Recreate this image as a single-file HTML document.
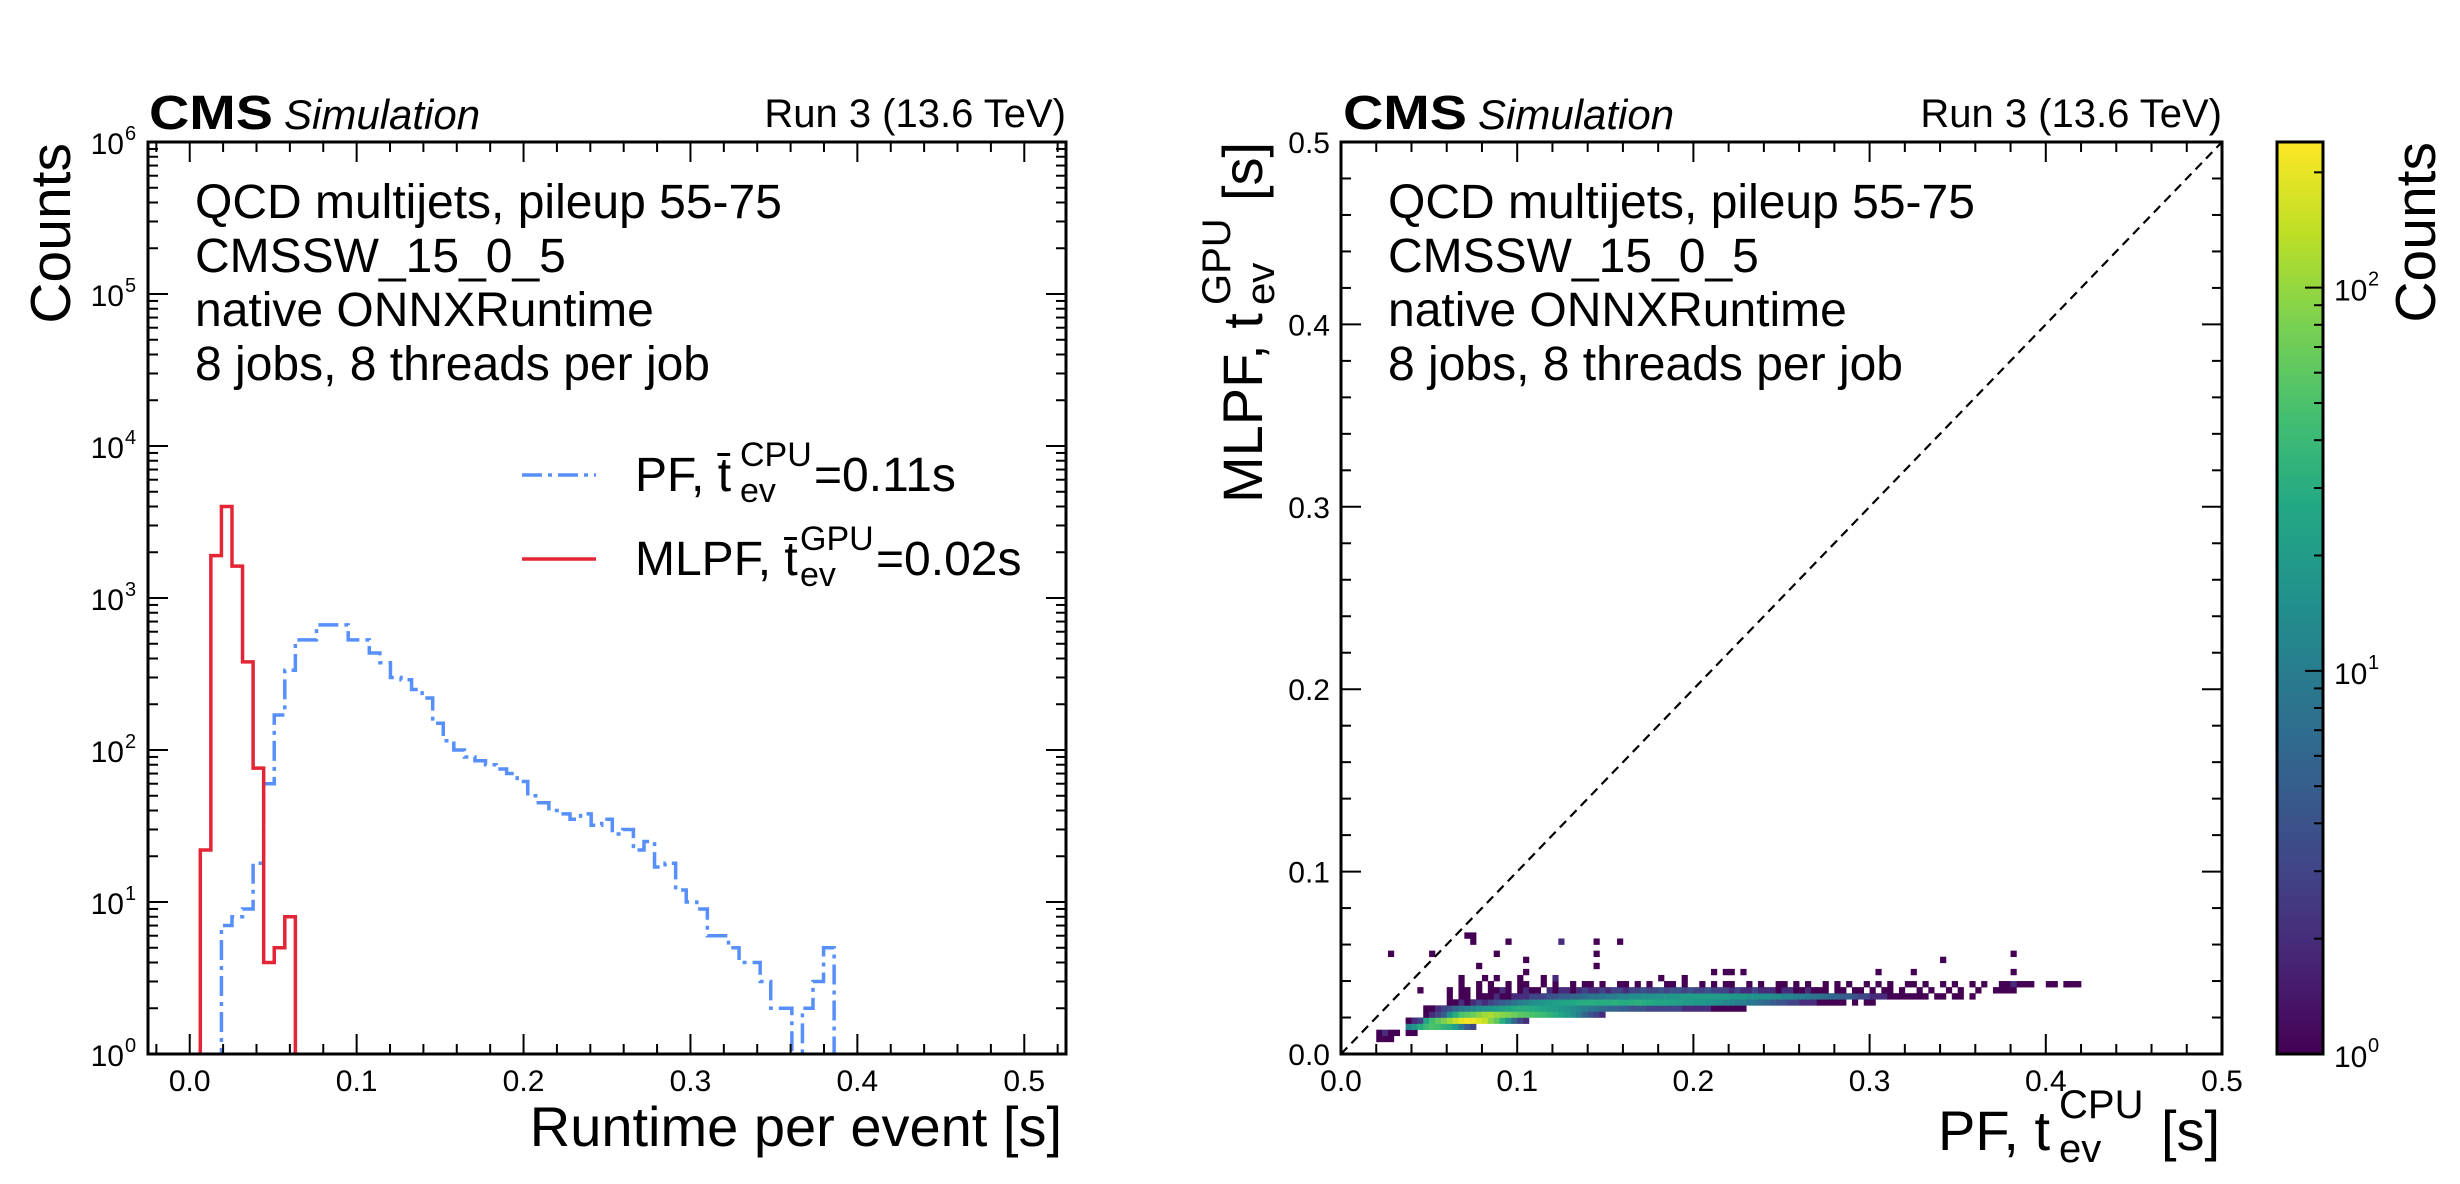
<!DOCTYPE html>
<html><head><meta charset="utf-8"><title>MLPF runtime</title>
<style>
html,body{margin:0;padding:0;background:#fff;}
svg{display:block;font-family:"Liberation Sans",Arial,sans-serif;}
</style></head>
<body>
<svg id="fig" width="2460" height="1184" viewBox="0 0 2460 1184" xmlns="http://www.w3.org/2000/svg">
<defs>
<clipPath id="clipL"><rect x="148" y="142" width="918" height="912"/></clipPath>
<clipPath id="clipR"><rect x="1341" y="142" width="881" height="912"/></clipPath>
<linearGradient id="viridis" x1="0" y1="1" x2="0" y2="0">
<stop offset="0" stop-color="#440154"/><stop offset="0.1" stop-color="#482475"/><stop offset="0.2" stop-color="#414487"/><stop offset="0.3" stop-color="#355f8d"/><stop offset="0.4" stop-color="#2a788e"/><stop offset="0.5" stop-color="#21918c"/><stop offset="0.6" stop-color="#22a884"/><stop offset="0.7" stop-color="#44bf70"/><stop offset="0.8" stop-color="#7ad151"/><stop offset="0.9" stop-color="#bddf26"/><stop offset="1" stop-color="#fde725"/>
</linearGradient>
</defs>
<g id="left">
<g id="histL" clip-path="url(#clipL)"></g>
<g id="axL"></g>
<text x="149" y="129" font-size="48" font-weight="bold" textLength="124" lengthAdjust="spacingAndGlyphs">CMS</text>
<text x="284" y="129" font-size="42" font-style="italic">Simulation</text>
<text x="1066" y="127" font-size="40" text-anchor="end">Run 3 (13.6 TeV)</text>
<g font-size="48">
<text x="195" y="218">QCD multijets, pileup 55-75</text>
<text x="195" y="272">CMSSW_15_0_5</text>
<text x="195" y="326">native ONNXRuntime</text>
<text x="195" y="380">8 jobs, 8 threads per job</text>
</g>
<g>
<line x1="522" y1="475" x2="596" y2="475" stroke="#5790fc" stroke-width="3.5" stroke-dasharray="20,6,4,6"/>
<g font-size="48">
<text x="635" y="491">PF, t̄</text>
<text x="740" y="502" font-size="34">ev</text>
<text x="740" y="466" font-size="34">CPU</text>
<text x="814" y="491">=0.11s</text>
</g>
<line x1="522" y1="559" x2="596" y2="559" stroke="#e42536" stroke-width="3.5"/>
<g font-size="48">
<text x="635" y="575">MLPF, t̄</text>
<text x="800" y="586" font-size="34">ev</text>
<text x="800" y="550" font-size="34">GPU</text>
<text x="876" y="575">=0.02s</text>
</g>
</g>
<text x="1062" y="1146" font-size="56" text-anchor="end">Runtime per event [s]</text>
<text transform="translate(70,143) rotate(-90)" font-size="57" text-anchor="end">Counts</text>
</g>
<g id="right">
<g id="heat" clip-path="url(#clipR)"></g>
<line x1="1341" y1="1054" x2="2222" y2="142" stroke="#000" stroke-width="2.2" stroke-dasharray="9,6"/>
<g id="axR"></g>
<text x="1343" y="129" font-size="48" font-weight="bold" textLength="124" lengthAdjust="spacingAndGlyphs">CMS</text>
<text x="1478" y="129" font-size="42" font-style="italic">Simulation</text>
<text x="2222" y="127" font-size="40" text-anchor="end">Run 3 (13.6 TeV)</text>
<g font-size="48">
<text x="1388" y="218">QCD multijets, pileup 55-75</text>
<text x="1388" y="272">CMSSW_15_0_5</text>
<text x="1388" y="326">native ONNXRuntime</text>
<text x="1388" y="380">8 jobs, 8 threads per job</text>
</g>
<g font-size="56">
<text x="1938" y="1150">PF, t</text>
<text x="2059" y="1162" font-size="40">ev</text>
<text x="2059" y="1118" font-size="40">CPU</text>
<text x="2161" y="1150">[s]</text>
</g>
<g transform="translate(1262,142) rotate(-90)" font-size="56">
<text x="-361" y="0">MLPF, t</text>
<text x="-163" y="12" font-size="40">ev</text>
<text x="-163" y="-32" font-size="40">GPU</text>
<text x="-59" y="0">[s]</text>
</g>
<rect x="2277" y="142" width="46" height="912" fill="url(#viridis)" stroke="#000" stroke-width="3"/>
<g id="axC"></g>
<text transform="translate(2435,142) rotate(-90)" font-size="57" text-anchor="end">Counts</text>
</g>
</svg>
<script>
// ---- histogram data (79 bins on 0..0.5) ----
const nBins = 79;
const histMax = 0.5;
const mlpfStartBin = 1;
const mlpfCounts = [22, 1900, 4000, 1620, 380, 76, 4, 5, 8];
const pfStartBin = 3;
const pfCounts = [7, 8, 9, 18, 60, 170, 335, 530, 530, 665, 665, 665, 530, 530, 435, 375, 300, 290,
  250, 220, 150, 115, 100, 90, 85, 80, 75, 70, 62, 50, 45, 40, 38, 35, 38, 32, 35, 28, 30, 22, 25, 17, 18,
  12, 10, 9, 6, 6, 5, 4, 4, 3, 2, 2, 0, 2, 3, 5];
const xTicksL = [0.0, 0.1, 0.2, 0.3, 0.4, 0.5];
const xTickLabelsL = ["0.0", "0.1", "0.2", "0.3", "0.4", "0.5"];
const yDecadesL = [0, 1, 2, 3, 4, 5, 6];
// ---- 2D histogram data (150x150 bins on 0..0.5) ----
const nBins2D = 150;
const segJ = [2, 3, 3, 4, 5, 6, 7, 8, 8, 9, 10, 11];
const segI0 = [6, 6, 11, 11, 11, 14, 14, 18, 45, 18, 18, 20];
const segC = [
  [1, 1, 1],
  [1, 2, 1, 1],
  [1, 1],
  [12, 18, 30, 40, 50, 45, 35, 30, 20, 10, 5, 3],
  [1, 2, 3, 25, 45, 60, 80, 110, 150, 200, 230, 210, 180, 150, 90, 60, 30, 15, 6, 3, 2],
  [1, 2, 3, 5, 15, 30, 50, 60, 70, 90, 110, 120, 100, 90, 80, 70, 60, 55, 50, 45, 40, 35, 30, 25, 20, 15, 10, 6, 4, 3, 2],
  [1, 1, 2, 3, 4, 6, 8, 10, 12, 14, 16, 18, 20, 22, 25, 28, 30, 30, 28, 26, 24, 22, 20, 18, 16, 14, 12, 10, 9, 8, 7, 6, 6, 5, 5, 4, 4, 4, 3, 3, 3, 3, 3, 3, 2, 2, 2, 2, 2, 1, 1, 1, 1, 1, 1],
  [1, 1, 2, 1, 2, 3, 2, 3, 4, 5, 6, 8, 10, 12, 14, 16, 18, 20, 22, 24, 25, 26, 28, 30, 30, 30, 30],
  [30, 32, 30, 28, 30, 32, 30, 28, 26, 25, 25, 24, 22, 20, 20, 18, 18, 16, 15, 14, 12, 12, 10, 10, 9, 8, 7, 6, 5, 4, 4, 3, 3, 2, 2, 2, 1, 1, 1, 1, 1, 0, 1, 0, 1, 1],
  [1, 0, 1, 1, 0, 1, 1, 1, 2, 1, 1, 2, 2, 2, 3, 3, 3, 4, 4, 5, 5, 6, 6, 7, 8, 8, 9, 10, 10, 12, 12, 14, 14, 15, 15, 16, 16, 18, 18, 18, 20, 20, 20, 20, 20, 20, 20, 20, 18, 18, 18, 16, 16, 15, 15, 14, 14, 12, 12, 10, 10, 9, 8, 8, 7, 6, 6, 5, 5, 4, 3, 3, 2, 2, 2, 1, 1, 1, 1, 1, 1, 1, 0, 1, 1, 0, 1, 1, 0, 1],
  [1, 0, 1, 1, 0, 1, 0, 1, 1, 2, 1, 0, 1, 2, 1, 1, 0, 2, 1, 2, 2, 1, 2, 3, 2, 2, 3, 2, 3, 3, 2, 3, 3, 4, 3, 3, 4, 3, 4, 4, 3, 4, 3, 3, 4, 3, 3, 3, 2, 3, 2, 2, 3, 2, 2, 2, 1, 2, 2, 1, 1, 2, 1, 1, 1, 0, 1, 1, 0, 1, 1, 0, 1, 0, 1, 1, 0, 1, 0, 0, 1, 0, 1, 0, 0, 1, 0, 1, 0, 0, 1, 0, 0, 1, 0, 1, 0],
  [1, 0, 0, 1, 0, 1, 0, 0, 1, 0, 1, 1, 0, 0, 1, 0, 1, 0, 0, 1, 0, 1, 1, 0, 1, 0, 0, 1, 1, 0, 1, 0, 1, 0, 0, 1, 1, 0, 1, 0, 0, 1, 0, 1, 0, 1, 1, 0, 0, 1, 0, 1, 0, 0, 1, 1, 0, 1, 0, 1, 0, 0, 1, 0, 1, 0, 1, 0, 0, 1, 0, 1, 0, 1, 0, 0, 1, 1, 0, 1, 0, 0, 1, 0, 1, 0, 0, 1, 0, 1, 0, 0, 1, 0, 0, 1, 0, 1, 0, 0, 1, 0, 0, 1, 0, 1]
];
const scatI = [8, 21, 22, 22, 28, 37, 43, 43, 43, 47, 15, 26, 31, 23, 13, 20, 24, 26, 30, 31, 34, 36, 54, 58, 63, 65, 66, 68, 91, 97, 102, 112, 113, 114, 114, 114, 114, 116, 121, 123, 124];
const scatJ = [16, 19, 18, 19, 18, 18, 18, 16, 14, 18, 16, 16, 15, 14, 10, 12, 12, 12, 12, 13, 12, 12, 12, 12, 13, 13, 13, 13, 13, 13, 15, 10, 11, 13, 16, 11, 10, 11, 11, 11, 11];
const scatC = [1, 1, 1, 1, 1, 2, 1, 1, 1, 1, 1, 1, 1, 1, 1, 1, 1, 1, 1, 1, 1, 2, 1, 1, 1, 1, 1, 1, 1, 1, 1, 1, 1, 1, 1, 2, 1, 1, 1, 1, 1];
const cbarMax = 240;
const xTicksR = [0.0, 0.1, 0.2, 0.3, 0.4, 0.5];
const tickLabelsR = ["0.0", "0.1", "0.2", "0.3", "0.4", "0.5"];
const cbarDecades = [0, 1, 2];

const NS = "http://www.w3.org/2000/svg";
function mk(tag, attrs, parent) {
  const e = document.createElementNS(NS, tag);
  for (const k in attrs) e.setAttribute(k, attrs[k]);
  parent.appendChild(e);
  return e;
}
const L = {x0: 148, x1: 1066, y0: 142, y1: 1054, xmin: -0.025, xmax: 0.525, dec: 152};
function XL(x) { return L.x0 + (x - L.xmin) / (L.xmax - L.xmin) * (L.x1 - L.x0); }
function YL(v) { return v <= 0 ? L.y1 + 50 : L.y1 - Math.log10(v) * L.dec; }
const R = {x0: 1341, x1: 2222, y0: 142, y1: 1054};
function XR(x) { return R.x0 + x / 0.5 * (R.x1 - R.x0); }
function YR(y) { return R.y1 - y / 0.5 * (R.y1 - R.y0); }
function YC(v) { return R.y1 - Math.log10(v) / Math.log10(cbarMax) * (R.y1 - R.y0); }

const histL = document.getElementById("histL");
function stepPath(start, counts) {
  const bw = histMax / nBins;
  let d = "M" + XL(start * bw) + "," + (L.y1 + 50);
  counts.forEach((c, k) => {
    const xa = XL((start + k) * bw), xb = XL((start + k + 1) * bw);
    d += " L" + xa + "," + YL(c) + " L" + xb + "," + YL(c);
  });
  d += " L" + XL((start + counts.length) * bw) + "," + (L.y1 + 50);
  return d;
}
const pfPath = mk("path", {d: stepPath(pfStartBin, pfCounts), fill: "none", stroke: "#5790fc", "stroke-width": 3.5, "stroke-dasharray": "20,6,4,6"}, histL);


const mlpfPath = mk("path", {d: stepPath(mlpfStartBin, mlpfCounts), fill: "none", stroke: "#e42536", "stroke-width": 3.5}, histL);



const axL = document.getElementById("axL");
const frameL = mk("rect", {x: L.x0, y: L.y0, width: L.x1 - L.x0, height: L.y1 - L.y0, fill: "none", stroke: "#000", "stroke-width": 3}, axL);


for (let m = -1; m <= 26; m++) {
  const x = m * 0.02;
  if (x < L.xmin || x > L.xmax) continue;
  const major = m % 5 === 0;
  const len = major ? 20 : 10;
  mk("line", {x1: XL(x), x2: XL(x), y1: L.y1, y2: L.y1 - len, stroke: "#000", "stroke-width": 2}, axL);
  mk("line", {x1: XL(x), x2: XL(x), y1: L.y0, y2: L.y0 + len, stroke: "#000", "stroke-width": 2}, axL);
}
xTicksL.forEach((x, k) => {
  const t = mk("text", {x: XL(x), y: 1091, "font-size": 30, "text-anchor": "middle"}, axL);
  t.textContent = xTickLabelsL[k];
  
  
});
yDecadesL.forEach(d => {
  const y = YL(Math.pow(10, d));
  mk("line", {x1: L.x0, x2: L.x0 + 20, y1: y, y2: y, stroke: "#000", "stroke-width": 2}, axL);
  mk("line", {x1: L.x1, x2: L.x1 - 20, y1: y, y2: y, stroke: "#000", "stroke-width": 2}, axL);
  const t = mk("text", {x: 124, y: y + 12, "font-size": 30, "text-anchor": "end"}, axL);
  t.textContent = "10";
  
  
  const s = mk("text", {x: 125, y: y - 2, "font-size": 20}, axL);
  s.textContent = String(d);
  if (d < 6) {
    for (let m = 2; m <= 9; m++) {
      const ym = YL(m * Math.pow(10, d));
      mk("line", {x1: L.x0, x2: L.x0 + 10, y1: ym, y2: ym, stroke: "#000", "stroke-width": 2}, axL);
      mk("line", {x1: L.x1, x2: L.x1 - 10, y1: ym, y2: ym, stroke: "#000", "stroke-width": 2}, axL);
    }
  }
});

const vStops = ["#440154", "#482475", "#414487", "#355f8d", "#2a788e", "#21918c", "#22a884", "#44bf70", "#7ad151", "#bddf26", "#fde725"];
function hex(c) { return [1, 3, 5].map(i => parseInt(c.substr(i, 2), 16)); }
function viridis(t) {
  t = Math.max(0, Math.min(1, t));
  const p = t * 10, i = Math.min(9, Math.floor(p)), f = p - i;
  const a = hex(vStops[i]), b = hex(vStops[i + 1]);
  return "rgb(" + a.map((v, k) => Math.round(v + (b[k] - v) * f)).join(",") + ")";
}
function colorFor(c) { return viridis(Math.log10(c) / Math.log10(cbarMax)); }

const heat = document.getElementById("heat");
const bw2 = 0.5 / nBins2D;
function cell(i, j, c) {
  if (c <= 0) return;
  const x = XR(i * bw2), y = YR((j + 1) * bw2);
  const r = mk("rect", {x: x, y: y, width: XR((i + 1) * bw2) - x + 0.3, height: YR(j * bw2) - y + 0.3, fill: colorFor(c)}, heat);
  
  
}
segJ.forEach((j, s) => { segC[s].forEach((c, k) => cell(segI0[s] + k, j, c)); });
scatI.forEach((i, k) => cell(i, scatJ[k], scatC[k]));

const axR = document.getElementById("axR");
const frameR = mk("rect", {x: R.x0, y: R.y0, width: R.x1 - R.x0, height: R.y1 - R.y0, fill: "none", stroke: "#000", "stroke-width": 3}, axR);


for (let m = 0; m <= 25; m++) {
  const v = m * 0.02, major = m % 5 === 0, len = major ? 20 : 10;
  mk("line", {x1: XR(v), x2: XR(v), y1: R.y1, y2: R.y1 - len, stroke: "#000", "stroke-width": 2}, axR);
  mk("line", {x1: XR(v), x2: XR(v), y1: R.y0, y2: R.y0 + len, stroke: "#000", "stroke-width": 2}, axR);
  mk("line", {x1: R.x0, x2: R.x0 + len, y1: YR(v), y2: YR(v), stroke: "#000", "stroke-width": 2}, axR);
  mk("line", {x1: R.x1, x2: R.x1 - len, y1: YR(v), y2: YR(v), stroke: "#000", "stroke-width": 2}, axR);
}
xTicksR.forEach((v, k) => {
  const t = mk("text", {x: XR(v), y: 1091, "font-size": 30, "text-anchor": "middle"}, axR);
  t.textContent = tickLabelsR[k];
  
  
  const u = mk("text", {x: 1330, y: YR(v) + 11, "font-size": 30, "text-anchor": "end"}, axR);
  u.textContent = tickLabelsR[k];
  
  
});

const axC = document.getElementById("axC");
cbarDecades.forEach(d => {
  const y = YC(Math.pow(10, d));
  mk("line", {x1: 2323, x2: 2305, y1: y, y2: y, stroke: "#000", "stroke-width": 2}, axC);
  const t = mk("text", {x: 2334, y: y + 13, "font-size": 30}, axC);
  t.textContent = "10";
  
  
  const s = mk("text", {x: 2368, y: y - 2, "font-size": 20}, axC);
  s.textContent = String(d);
  for (let m = 2; m <= 9; m++) {
    const v = m * Math.pow(10, d);
    if (v > cbarMax) break;
    const ym = YC(v);
    mk("line", {x1: 2323, x2: 2314, y1: ym, y2: ym, stroke: "#000", "stroke-width": 2}, axC);
  }
});
</script>
</body></html>
